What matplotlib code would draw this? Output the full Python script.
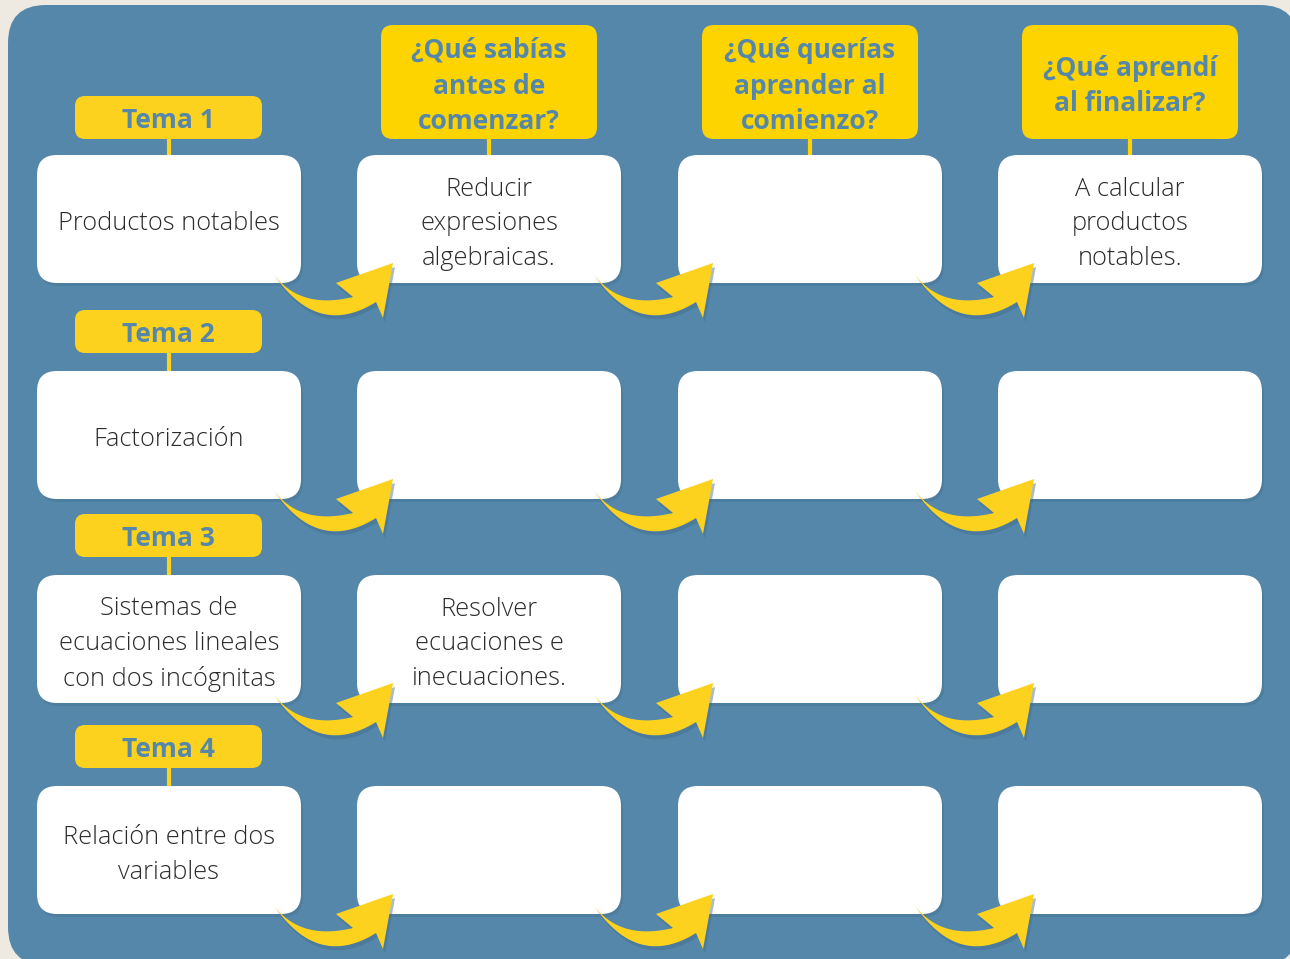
import matplotlib
matplotlib.use("Agg")
import matplotlib.pyplot as plt
from matplotlib.patches import FancyBboxPatch, Polygon
import numpy as np

# ---- content ----
headers = ["¿Qué sabías\nantes de\ncomenzar?",
           "¿Qué querías\naprender al\ncomienzo?",
           "¿Qué aprendí\nal finalizar?"]
temas = ["Tema 1", "Tema 2", "Tema 3", "Tema 4"]
topics = ["Productos notables",
          "Factorización",
          "Sistemas de\necuaciones lineales\ncon dos incógnitas",
          "Relación entre dos\nvariables"]
col1_text = ["Reducir\nexpresiones\nalgebraicas.", "", "Resolver\necuaciones e\ninecuaciones.", ""]
col2_text = ["", "", "", ""]
col3_text = ["A calcular\nproductos\nnotables.", "", "", ""]

# ---- style ----
BG = "#EEEAE1"
BLUE = "#5587AA"
YELLOW = "#FCD21E"
HEADER_Y = "#FDD400"
TEXT = "#2b2b2b"
SHADOW = "#3F6B8C"

W, H = 1290, 959
fig = plt.figure(figsize=(W / 100, H / 100), dpi=100)
fig.patch.set_facecolor(BG)
ax = fig.add_axes([0, 0, 1, 1])
ax.set_xlim(0, W)
ax.set_ylim(H, 0)
ax.axis("off")

def rbox(x, y, w, h, r, color, z, alpha=1.0):
    p = FancyBboxPatch((x, y), w, h, boxstyle=f"round,pad=0,rounding_size={r}",
                       fc=color, ec="none", zorder=z, alpha=alpha)
    ax.add_patch(p)

# panel
rbox(8, 5, 1290, 960, 38, BLUE, 0)

col_left = [37, 357, 678, 998]
box_w = 264
row_top = [155, 371, 575, 786]
box_h = 128
tema_top = [96, 310, 514, 725]
tema_h = 43
hdr_left = [381, 702, 1022]
hdr_w = 216

fnt_body = dict(family=["Open Sans", "DejaVu Sans"], fontweight="light", fontsize=18.3,
                color=TEXT, linespacing=1.49, ha="center", va="center")
fnt_bold = dict(family=["Open Sans", "DejaVu Sans"], fontweight="bold", color=BLUE,
                ha="center", va="center")

# headers
for i, t in enumerate(headers):
    x = hdr_left[i]
    rbox(x, 25, hdr_w, 114, 12, HEADER_Y, 3)
    ax.plot([x + hdr_w / 2] * 2, [139, 155], color=HEADER_Y, lw=3, zorder=2)
    ax.text(x + hdr_w / 2, 86, t, fontsize=19, linespacing=1.41, zorder=5, **fnt_bold)

def arrow(xr, yb):
    def qb(p0, c, p2, n=30):
        t = np.linspace(0, 1, n)[:, None]
        return (1 - t) ** 2 * np.array(p0) + 2 * (1 - t) * t * np.array(c) + t ** 2 * np.array(p2)
    upper = qb((-28, -10), (-2, 27), (52, 14))
    head = np.array([(35, 0), (92, -20), (82, 35), (75, 19)])
    lower = qb((75, 19), (16, 56), (-28, -10))
    pts = np.vstack([upper, head, lower]) + np.array([xr, yb])
    ax.add_patch(Polygon(pts + np.array([2, 4]), closed=True, fc=SHADOW, ec="none", alpha=0.45, zorder=6))
    ax.add_patch(Polygon(pts, closed=True, fc=YELLOW, ec="none", zorder=7))

cols_text = [topics, col1_text, col2_text, col3_text]
for r in range(4):
    # tema label
    rbox(75, tema_top[r], 187, tema_h, 10, YELLOW, 3)
    ax.plot([168.5, 168.5], [tema_top[r] + tema_h, row_top[r]], color=YELLOW, lw=3, zorder=2)
    ax.text(168.5, tema_top[r] + tema_h / 2 + 3, temas[r], fontsize=19, zorder=5, **fnt_bold)
    for c in range(4):
        x = col_left[c]
        y = row_top[r]
        rbox(x + 2, y + 3, box_w, box_h, 20, SHADOW, 1, alpha=0.35)
        rbox(x, y, box_w, box_h, 20, "white", 4)
        txt = cols_text[c][r]
        if txt:
            ax.text(x + box_w / 2, y + box_h / 2 + 5, txt, zorder=5, **fnt_body)
        if c < 3:
            arrow(x + box_w, y + box_h)

fig.savefig("out.png", dpi=100, facecolor=BG)
